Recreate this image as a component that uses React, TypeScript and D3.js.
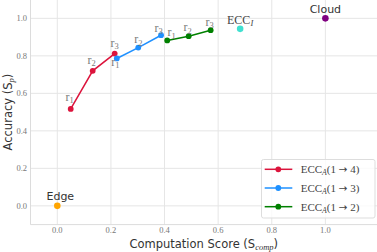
import React from "react";
import * as d3 from "d3";

// ---- data ----
const xTicks = [0.0, 0.2, 0.4, 0.6, 0.8, 1.0];
const yTicks = [0.0, 0.2, 0.4, 0.6, 0.8, 1.0];

const ecc4X = [0.05, 0.132, 0.214];
const ecc4Y = [0.517, 0.72, 0.812];
const ecc3X = [0.222, 0.302, 0.387];
const ecc3Y = [0.786, 0.844, 0.91];
const ecc2X = [0.41, 0.49, 0.572];
const ecc2Y = [0.882, 0.905, 0.937];
const pointLabels = ["1", "2", "3"];

const eccIX = 0.682;
const eccIY = 0.944;
const cloudX = 1.0;
const cloudY = 1.0;
const edgeX = 0.0;
const edgeY = 0.0;

const legendLabels = ["4", "3", "2"];

// ---- layout / style ----
const W = 377;
const H = 252;
const left = 30.5;
const right = 379;
const top = -0.4;
const bottom = 224.6;
const SERIF = "'Liberation Serif', 'DejaVu Serif', serif";
const SANS = "'DejaVu Sans', sans-serif";
const series = [
  { xs: ecc4X, ys: ecc4Y, color: "#DC143C", off: [[-1, -8], [-1, -7], [0, -7]] },
  { xs: ecc3X, ys: ecc3Y, color: "#1E90FF", off: [[-1.5, 7.5], [0, -4.4], [-2.5, -3.7]] },
  { xs: ecc2X, ys: ecc2Y, color: "#008000", off: [[4.5, -4], [-1, -4.7], [-1, -4.3]] },
];

export default function App() {
  const x = d3.scaleLinear().domain([-0.1, 1.2]).range([left, right]);
  const y = d3.scaleLinear().domain([-0.1, 1.1]).range([bottom, top]);
  const line = d3
    .line<[number, number]>()
    .x((d) => x(d[0]))
    .y((d) => y(d[1]));

  const legendColors = series.map((s) => s.color);

  return (
    <svg
      width={W}
      height={H}
      style={{ position: "absolute", left: 0, top: 0, background: "#fff" }}
    >
      <rect x={0} y={0} width={W} height={H} fill="#fff" />
      {/* grid */}
      {xTicks.map((t) => (
        <line key={"gx" + t} x1={x(t)} x2={x(t)} y1={top} y2={bottom} stroke="#e6e6e6" strokeWidth={1} />
      ))}
      {yTicks.map((t) => (
        <line key={"gy" + t} x1={left} x2={right} y1={y(t)} y2={y(t)} stroke="#e6e6e6" strokeWidth={1} />
      ))}
      {/* spines */}
      <line x1={left} x2={left} y1={top} y2={bottom} stroke="#dcdcdc" strokeWidth={1} />
      <line x1={left} x2={right} y1={bottom} y2={bottom} stroke="#dcdcdc" strokeWidth={1} />

      {/* tick labels */}
      {xTicks.map((t) => (
        <text key={"tx" + t} x={x(t)} y={bottom + 8.5} fontFamily={SERIF} fontSize={8.5} fill="#777" textAnchor="middle">
          {t.toFixed(1)}
        </text>
      ))}
      {yTicks.map((t) => (
        <text key={"ty" + t} x={27} y={y(t) + 3} fontFamily={SERIF} fontSize={8.5} fill="#777" textAnchor="end">
          {t.toFixed(1)}
        </text>
      ))}

      {/* axis labels */}
      <text x={(left + right) / 2 - 1} y={248} fontFamily={SANS} fontSize={11.5} fill="#333" textAnchor="middle">
        Computation Score (S
        <tspan fontFamily={SERIF} fontStyle="italic" fontSize={8.5} dy={2}>comp</tspan>
        <tspan dy={-2}>)</tspan>
      </text>
      <text
        transform={`translate(12, ${(top + bottom) / 2}) rotate(-90)`}
        fontFamily={SANS}
        fontSize={11.5}
        fill="#333"
        textAnchor="middle"
      >
        Accuracy (S
        <tspan fontFamily={SERIF} fontStyle="italic" fontSize={8.5} dy={2}>p</tspan>
        <tspan dy={-2}>)</tspan>
      </text>

      {/* series */}
      {series.map((s, si) => {
        const pts = s.xs.map((v, i) => [v, s.ys[i]] as [number, number]);
        return (
          <g key={"s" + si}>
            <path d={line(pts) || ""} fill="none" stroke={s.color} strokeWidth={1.5} />
            {pts.map((p, i) => (
              <circle key={i} cx={x(p[0])} cy={y(p[1])} r={2.9} fill={s.color} />
            ))}
            {pts.map((p, i) => (
              <text
                key={"l" + i}
                x={x(p[0]) + s.off[i][0]}
                y={y(p[1]) + s.off[i][1]}
                fontFamily={SERIF}
                fontSize={12}
                fill="#7a7a7a"
                textAnchor="middle"
              >
                r<tspan fontSize={8.5} dy={2.5}>{pointLabels[i]}</tspan>
              </text>
            ))}
          </g>
        );
      })}

      {/* single points */}
      <circle cx={x(eccIX)} cy={y(eccIY)} r={3.3} fill="#40E0D0" />
      <text x={x(eccIX)} y={y(eccIY) - 5} fontFamily={SERIF} fontSize={12} fill="#444" textAnchor="middle">
        ECC<tspan fontStyle="italic" fontSize={8.5} dy={2.5}>I</tspan>
      </text>
      <circle cx={x(cloudX)} cy={y(cloudY)} r={3.3} fill="#800080" />
      <text x={x(cloudX)} y={y(cloudY) - 5} fontFamily={SANS} fontSize={11} fill="#333" textAnchor="middle">
        Cloud
      </text>
      <circle cx={x(edgeX)} cy={y(edgeY)} r={3.3} fill="#FFA500" />
      <text x={x(edgeX) + 3} y={y(edgeY) - 5.5} fontFamily={SANS} fontSize={11} fill="#333" textAnchor="middle">
        Edge
      </text>

      {/* legend */}
      <rect x={261.5} y={159.5} width={113.5} height={58.5} rx={2} fill="#fff" fillOpacity={0.8} stroke="#dddddd" strokeWidth={1} />
      {legendLabels.map((lab, i) => {
        const ly = 169.3 + i * 18.7;
        return (
          <g key={"lg" + i}>
            <line x1={264.7} x2={292.3} y1={ly} y2={ly} stroke={legendColors[i]} strokeWidth={1.5} />
            <circle cx={278.3} cy={ly} r={2.9} fill={legendColors[i]} />
            <text x={300.7} y={ly + 3.8} fontFamily={SERIF} fontSize={11} fill="#444">
              ECC<tspan fontStyle="italic" fontSize={7.8} dy={2}>A</tspan>
              <tspan dy={-2}>(1 </tspan>
              <tspan fontFamily={SANS} fontSize={10.5}>→</tspan>
              <tspan> {lab})</tspan>
            </text>
          </g>
        );
      })}
    </svg>
  );
}
